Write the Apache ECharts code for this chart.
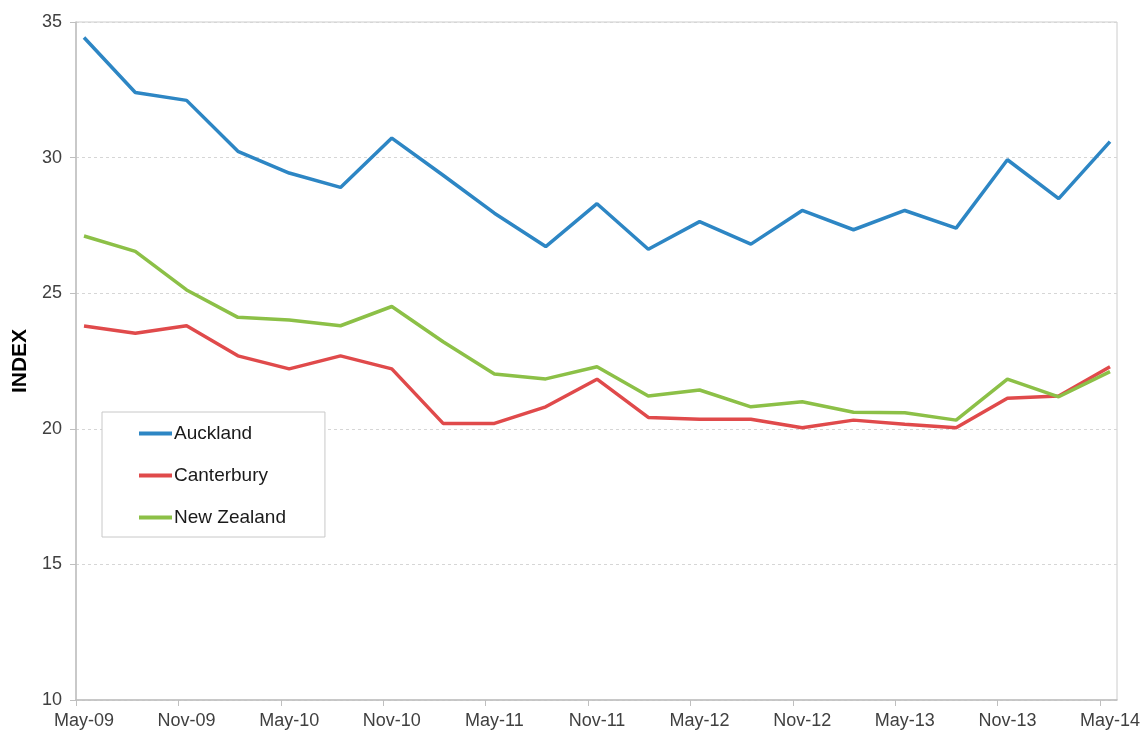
<!DOCTYPE html>
<html>
<head>
<meta charset="utf-8">
<script src="https://cdn.jsdelivr.net/npm/echarts@6/dist/echarts.min.js"></script>
<style>
  html, body { margin: 0; padding: 0; background: #fff; }
  #chart { width: 1145px; height: 733px; }
</style>
</head>
<body>
<div id="chart"></div>
<script>
// quarterly readings, May-09 .. May-14
const quarters = [
  'May-09', 'Aug-09', 'Nov-09', 'Feb-10', 'May-10', 'Aug-10', 'Nov-10',
  'Feb-11', 'May-11', 'Aug-11', 'Nov-11', 'Feb-12', 'May-12', 'Aug-12',
  'Nov-12', 'Feb-13', 'May-13', 'Aug-13', 'Nov-13', 'Feb-14', 'May-14'
];
const auckland = [
  34.43, 32.40, 32.11, 30.23, 29.43, 28.90, 30.72, 29.35, 27.95, 26.72, 28.30,
  26.62, 27.64, 26.81, 28.05, 27.34, 28.05, 27.40, 29.92, 28.49, 30.59
];
const canterbury = [
  23.79, 23.52, 23.80, 22.69, 22.21, 22.69, 22.21, 20.20, 20.20, 20.81, 21.83,
  20.42, 20.35, 20.35, 20.04, 20.32, 20.17, 20.04, 21.13, 21.21, 22.29
];
const newZealand = [
  27.11, 26.54, 25.12, 24.11, 24.01, 23.80, 24.51, 23.21, 22.02, 21.84, 22.29,
  21.21, 21.43, 20.81, 21.00, 20.61, 20.59, 20.32, 21.83, 21.18, 22.11
];
const seriesNames = ['Auckland', 'Canterbury', 'New Zealand'];
const seriesColors = ['#2d86c4', '#e04a4b', '#8cc047'];
const yTicks = { min: 10, max: 35, step: 5 };

const font = 'Liberation Sans, Arial, sans-serif';
const myChart = echarts.init(document.getElementById('chart'), null, { renderer: 'canvas' });

// tick marks every second quarter (May / Nov)
const tickIdx = quarters.map((q, i) => i).filter(i => i % 2 === 0);

const option = {
  animation: false,
  backgroundColor: '#fff',
  grid: [
    // grid 0 holds the lines, grid 1 is the frame with axes / ticks
    { left: 84, right: 35, top: 22, bottom: 33 },
    { left: 76, right: 28, top: 22, bottom: 33, show: true, borderColor: '#cccccc', borderWidth: 1 }
  ],
  legend: {
    orient: 'vertical',
    left: 102,
    top: 412,
    padding: [11, 39, 9, 37],
    itemGap: 21,
    icon: 'rect',
    itemWidth: 33,
    itemHeight: 4,
    borderColor: '#c8c8c8',
    borderWidth: 1,
    backgroundColor: '#fff',
    data: seriesNames,
    textStyle: { fontFamily: font, fontSize: 19, color: '#1a1a1a', padding: [0, 0, 0, -3], lineHeight: 21 }
  },
  xAxis: [
    {
      type: 'category',
      gridIndex: 0,
      data: quarters,
      boundaryGap: false,
      axisLine: { show: false },
      axisTick: { show: false },
      axisLabel: { interval: 1, fontFamily: font, fontSize: 18, color: '#404040', margin: 12 },
      splitLine: { show: false }
    },
    {
      type: 'value',
      gridIndex: 1,
      min: 0,
      max: 20.33,
      interval: 2,
      axisLine: { show: true, lineStyle: { color: '#bfbfbf', width: 1.5 } },
      axisTick: { show: true, length: 6, customValues: tickIdx, lineStyle: { color: '#bfbfbf' } },
      axisLabel: { show: false },
      splitLine: { show: false }
    }
  ],
  yAxis: [
    {
      type: 'value',
      gridIndex: 0,
      min: yTicks.min,
      max: yTicks.max,
      interval: yTicks.step,
      show: false
    },
    {
      type: 'value',
      gridIndex: 1,
      min: yTicks.min,
      max: yTicks.max,
      interval: yTicks.step,
      name: 'INDEX',
      nameLocation: 'middle',
      nameGap: 44,
      nameTextStyle: { fontFamily: font, fontSize: 21, fontWeight: 'bold', color: '#000' },
      axisLine: { show: true, lineStyle: { color: '#bfbfbf', width: 1.5 } },
      axisTick: { show: true, length: 6, lineStyle: { color: '#bfbfbf' } },
      axisLabel: { fontFamily: font, fontSize: 18, color: '#404040', margin: 14 },
      splitLine: { show: true, lineStyle: { color: '#d6d6d6', type: [3, 3], width: 1 } }
    }
  ],
  series: [auckland, canterbury, newZealand].map((vals, i) => ({
    name: seriesNames[i],
    type: 'line',
    xAxisIndex: 0,
    yAxisIndex: 0,
    data: vals,
    symbol: 'none',
    color: seriesColors[i],
    lineStyle: { width: 3.5, color: seriesColors[i] }
  }))
};

myChart.setOption(option);
</script>
</body>
</html>
